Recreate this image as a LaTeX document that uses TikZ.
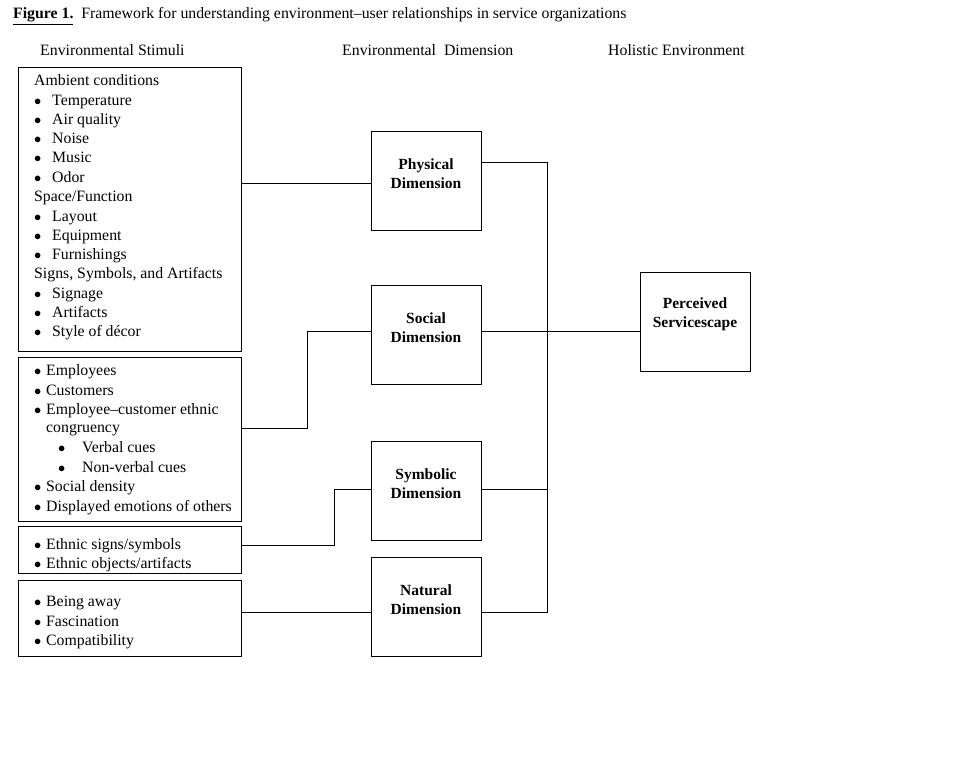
\documentclass[tikz,border=0pt]{standalone}
\usepackage{fontspec}
\setmainfont{Liberation Serif}
\begin{document}
\begin{tikzpicture}[x=1pt,y=-1pt,
  bx/.style={draw,line width=0.8pt},
  dim/.style={draw,line width=0.8pt,minimum width=110pt,minimum height=99pt,
    label={[yshift=7pt,align=center,font=\fontsize{15.5}{19}\selectfont\bfseries]center:#1}},
  tx/.style={anchor=base west,inner sep=0pt,font=\fontsize{15.8}{19}\selectfont},
  ln/.style={line width=0.8pt}]
\useasboundingbox (0,0) rectangle (960,768);
\node[tx] at (13,19) {\textbf{\underline{Figure 1.}}\ \ Framework for understanding environment--user relationships in service organizations};
\node[tx] (h1) at (40,56) {Environmental Stimuli};
\node[tx] (h2) at (342,56) {Environmental\ \ Dimension};
\node[tx] (h3) at (608,56) {Holistic Environment};
\draw[bx] (18,67) rectangle (241,351);
\draw[bx] (18,357) rectangle (241,521);
\draw[bx] (18,526) rectangle (241,573);
\draw[bx] (18,580) rectangle (241,656);
\coordinate (b1) at (241,183);
\coordinate (b2) at (241,428);
\coordinate (b3) at (241,545);
\coordinate (b4) at (241,612);
\foreach \y/\t/\b in {80/{Ambient conditions}/0,100/Temperature/1,119/{Air quality}/1,138/Noise/1,157/Music/1,177/Odor/1,196/{Space/Function}/0,216/Layout/1,235/Equipment/1,254/Furnishings/1,273/{Signs, Symbols, and Artifacts}/0,293/Signage/1,312/Artifacts/1,331/{Style of décor}/1}{
  \ifnum\b=1 \node[tx] at (34,\y+5) {$\bullet$}; \node[tx] at (52,\y+5) {\t};
  \else \node[tx] at (34,\y+5) {\t}; \fi }
\foreach \y/\t in {370/Employees,390/Customers,409/{Employee--customer ethnic},486/{Social density},506/{Displayed emotions of others},544/{Ethnic signs/symbols},563/{Ethnic objects/artifacts},601/{Being away},621/Fascination,640/Compatibility}{
  \node[tx] at (34,\y+5) {$\bullet$}; \node[tx] at (46,\y+5) {\t};}
\node[tx] at (46,432) {congruency};
\foreach \y/\t in {447/{Verbal cues},467/{Non-verbal cues}}{
  \node[tx] at (58,\y+5) {$\bullet$}; \node[tx] at (82,\y+5) {\t};}
\node[dim={Physical\\Dimension}] (phy) at (426,180.5) {};
\node[dim={Social\\Dimension}] (soc) at (426,334.5) {};
\node[dim={Symbolic\\Dimension}] (sym) at (426,490.5) {};
\node[dim={Natural\\Dimension}] (nat) at (426,606.5) {};
\node[dim={Perceived\\Servicescape}] (per) at (695,321.5) {};
\draw[ln] (b1) -- (phy.west |- b1);
\draw[ln] (b2) -- (307,428) -- (307,331) -- (soc.west |- 0,331);
\draw[ln] (b3) -- (334,545) -- (334,489) -- (sym.west |- 0,489);
\draw[ln] (b4) -- (nat.west |- b4);
\coordinate (j) at (547,331);
\draw[ln] (phy.east |- 0,162) -- (547,162) -- (547,612) -- (nat.east |- 0,612);
\draw[ln] (soc.east |- j) -- (per.west |- j);
\draw[ln] (sym.east |- 0,489) -- (547,489);
\end{tikzpicture}
\end{document}
